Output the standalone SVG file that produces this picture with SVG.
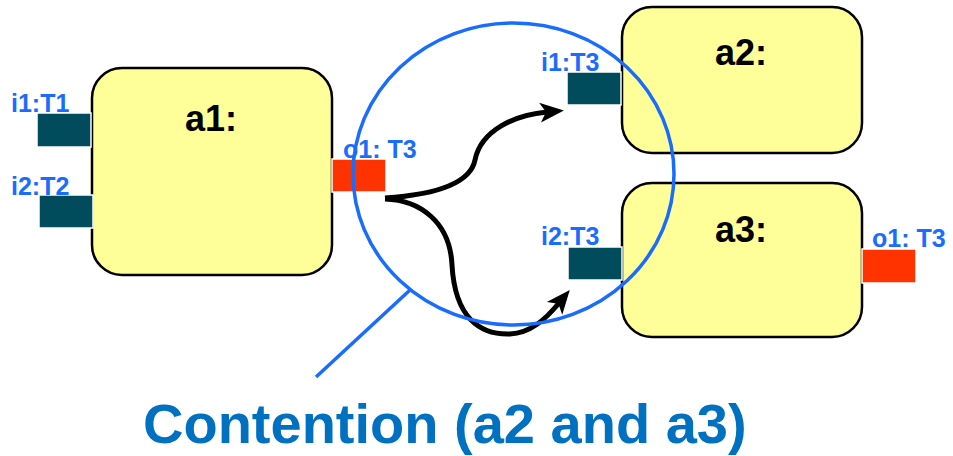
<svg xmlns="http://www.w3.org/2000/svg" width="953" height="456" viewBox="0 0 953 456">
  <style>
    .box { fill: #ffff99; stroke: #000; stroke-width: 2.5; }
    .in { fill: #004c5c; stroke: #fff; stroke-width: 1.5; }
    .out { fill: #ff3300; stroke: #fff; stroke-width: 1.5; }
    .name { font-family: "Liberation Sans", Arial, sans-serif; font-weight: bold; font-size: 36px; fill: #000; text-anchor: middle; }
    .port { font-family: "Liberation Sans", Arial, sans-serif; font-weight: bold; font-size: 25px; fill: #1a6cff; }
    .flow { fill: none; stroke: #000; stroke-width: 5; }
    .note { fill: none; stroke: #1a6cff; stroke-width: 3.5; }
    .caption { font-family: "Liberation Sans", Arial, sans-serif; font-weight: bold; font-size: 56px; fill: #0070c0; }
  </style>
  <defs>
    <marker id="head" markerUnits="userSpaceOnUse" markerWidth="26" markerHeight="26" viewBox="0 0 26 26" refX="7" refY="13" orient="auto">
      <path d="M0,3 L24,13 L0,23 L6,13 Z" fill="#000"/>
    </marker>
  </defs>

  <g id="a1">
    <rect class="box" x="92" y="68" width="240" height="207" rx="30"/>
    <text class="name" x="211" y="131">a1:</text>
    <rect class="in" x="37" y="113" width="54" height="34"/>
    <text class="port" x="11" y="112">i1:T1</text>
    <rect class="in" x="39" y="195" width="54" height="33"/>
    <text class="port" x="11" y="195">i2:T2</text>
    <rect class="out" x="332" y="159" width="54" height="33"/>
    <text class="port" x="343" y="158">o1: T3</text>
  </g>

  <g id="a2">
    <rect class="box" x="622" y="7" width="240" height="146" rx="30"/>
    <text class="name" x="741" y="65">a2:</text>
    <rect class="in" x="567" y="72" width="54" height="33"/>
    <text class="port" x="541" y="71">i1:T3</text>
  </g>

  <g id="a3">
    <rect class="box" x="622" y="183" width="240" height="154" rx="30"/>
    <text class="name" x="741" y="242">a3:</text>
    <rect class="in" x="568" y="247" width="54" height="33"/>
    <text class="port" x="541" y="245">i2:T3</text>
    <rect class="out" x="862" y="249" width="54" height="34"/>
    <text class="port" x="872" y="247">o1: T3</text>
  </g>

  <g id="connectors">
    <path class="flow" d="M385,198 C430,195 470,185 475,160 C481,130 515,115 547,112" marker-end="url(#head)"/>
    <path class="flow" d="M385,199 C420,200 450,222 452,265 C455,318 480,335 510,334 C530,333 545,320 559,303" marker-end="url(#head)"/>
  </g>

  <g id="contention">
    <ellipse class="note" cx="513.5" cy="174" rx="160.5" ry="151"/>
    <line class="note" x1="410" y1="290" x2="316" y2="377"/>
    <text class="caption" x="143" y="443">Contention (a2 and a3)</text>
  </g>
</svg>
